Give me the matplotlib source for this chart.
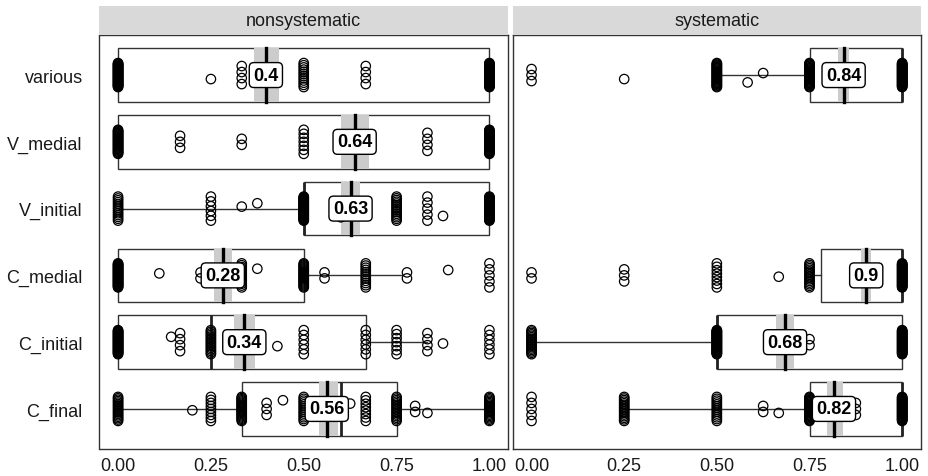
import numpy as np
import matplotlib
matplotlib.use("Agg")
import matplotlib.pyplot as plt

plt.rcParams['font.family'] = ['Liberation Sans', 'DejaVu Sans']

# ---------------- data ----------------
categories = ["various", "V_medial", "V_initial", "C_medial", "C_initial", "C_final"]
panels = ["nonsystematic", "systematic"]
x_ticks = [0.0, 0.25, 0.5, 0.75, 1.0]
x_tick_labels = ["0.00", "0.25", "0.50", "0.75", "1.00"]

# observed proportions (value, count) per panel / category
ns_various_vals = [0, 0.25, 0.333, 0.5, 0.667, 1]
ns_various_cnt = [40, 1, 4, 12, 4, 40]
ns_vmedial_vals = [0, 0.167, 0.333, 0.5, 0.667, 0.833, 1]
ns_vmedial_cnt = [30, 3, 2, 7, 2, 4, 35]
ns_vinitial_vals = [0, 0.25, 0.333, 0.375, 0.5, 0.6, 0.667, 0.75, 0.833, 0.875, 1]
ns_vinitial_cnt = [14, 6, 1, 1, 35, 1, 1, 15, 5, 1, 35]
ns_cmedial_vals = [0, 0.111, 0.222, 0.25, 0.333, 0.375, 0.5, 0.556, 0.667, 0.778, 0.889, 1]
ns_cmedial_cnt = [35, 1, 2, 1, 14, 1, 25, 2, 12, 2, 1, 5]
ns_cinitial_vals = [0, 0.143, 0.167, 0.25, 0.333, 0.429, 0.5, 0.667, 0.75, 0.833, 0.875, 1]
ns_cinitial_cnt = [35, 1, 4, 16, 3, 1, 6, 6, 7, 4, 1, 6]
ns_cfinal_vals = [0, 0.2, 0.25, 0.333, 0.4, 0.444, 0.5, 0.6, 0.625, 0.667, 0.75, 0.8, 0.833, 1]
ns_cfinal_cnt = [18, 1, 9, 22, 3, 1, 14, 2, 1, 8, 16, 2, 1, 20]

sy_various_vals = [0, 0.25, 0.5, 0.583, 0.625, 0.75, 0.875, 1]
sy_various_cnt = [3, 1, 30, 1, 1, 30, 2, 45]
sy_vmedial_vals = []
sy_vmedial_cnt = []
sy_vinitial_vals = []
sy_vinitial_cnt = []
sy_cmedial_vals = [0, 0.25, 0.5, 0.667, 0.75, 1]
sy_cmedial_cnt = [2, 3, 8, 1, 16, 40]
sy_cinitial_vals = [0, 0.5, 0.667, 0.75, 1]
sy_cinitial_cnt = [18, 40, 1, 2, 40]
sy_cfinal_vals = [0, 0.25, 0.5, 0.625, 0.667, 0.75, 0.875, 1]
sy_cfinal_cnt = [5, 16, 14, 2, 1, 30, 3, 40]

# box statistics (category order as above; nan = no data)
nan = float("nan")
ns_q1 = [0, 0, 0.5, 0, 0, 0.333]
ns_med = [0.398, 0.637, 0.5, 0.282, 0.25, 0.6]
ns_q3 = [1, 1, 1, 0.5, 0.667, 0.75]
ns_wlo = [0, 0, 0, 0, 0, 0]
ns_whi = [1, 1, 1, 0.765, 0.833, 1]
ns_mean = [0.398, 0.637, 0.626, 0.282, 0.340, 0.562]
ns_ci_lo = [0.365, 0.599, 0.600, 0.257, 0.311, 0.540]
ns_ci_hi = [0.434, 0.675, 0.652, 0.308, 0.369, 0.591]

sy_q1 = [0.75, nan, nan, 0.782, 0.5, 0.75]
sy_med = [1.0, nan, nan, 1.0, 0.5, 1.0]
sy_q3 = [1, nan, nan, 1, 1, 1]
sy_wlo = [0.5, nan, nan, 0.75, 0, 0.25]
sy_whi = [1, nan, nan, 1, 1, 1]
sy_mean = [0.842, nan, nan, 0.903, 0.684, 0.816]
sy_ci_lo = [0.826, nan, nan, 0.888, 0.659, 0.797]
sy_ci_hi = [0.857, nan, nan, 0.917, 0.708, 0.840]

# ---------------- assemble ----------------
points = {
    "nonsystematic": [(ns_various_vals, ns_various_cnt), (ns_vmedial_vals, ns_vmedial_cnt),
                      (ns_vinitial_vals, ns_vinitial_cnt), (ns_cmedial_vals, ns_cmedial_cnt),
                      (ns_cinitial_vals, ns_cinitial_cnt), (ns_cfinal_vals, ns_cfinal_cnt)],
    "systematic": [(sy_various_vals, sy_various_cnt), (sy_vmedial_vals, sy_vmedial_cnt),
                   (sy_vinitial_vals, sy_vinitial_cnt), (sy_cmedial_vals, sy_cmedial_cnt),
                   (sy_cinitial_vals, sy_cinitial_cnt), (sy_cfinal_vals, sy_cfinal_cnt)],
}
boxes = {
    "nonsystematic": (ns_q1, ns_med, ns_q3, ns_wlo, ns_whi, ns_mean, ns_ci_lo, ns_ci_hi),
    "systematic": (sy_q1, sy_med, sy_q3, sy_wlo, sy_whi, sy_mean, sy_ci_lo, sy_ci_hi),
}

W, H = 929, 477
fig = plt.figure(figsize=(W / 100, H / 100), dpi=100)
fig.patch.set_facecolor("white")

panel_px = [(99.5, 508.0), (513.0, 920.7)]
top_px, bot_px = 36.0, 450.0
strip_top = 7.0

PATTERN = [0.10, -0.06, 0.13, -0.11, 0.03, 0.08, -0.02, -0.13]
BOXW = 0.8
ncat = len(categories)


def offsets(n, k):
    if n == 1:
        return np.array([PATTERN[k % len(PATTERN)]])
    s = min(0.18, 0.045 * (n - 1))
    return np.linspace(-s, s, n)


for pi, pname in enumerate(panels):
    x0, x1 = panel_px[pi]
    ax = fig.add_axes([x0 / W, 1 - bot_px / H, (x1 - x0) / W, (bot_px - top_px) / H])
    ax.set_xlim(-0.05, 1.05)
    ax.set_ylim(0.4, ncat + 0.6)
    for sp in ax.spines.values():
        sp.set_color("#333333")
        sp.set_linewidth(1.0)
    ax.set_xticks(x_ticks)
    ax.set_xticklabels(x_tick_labels, fontsize=13, color="#1a1a1a")
    ax.set_yticks([ncat - i for i in range(ncat)])
    if pi == 0:
        ax.set_yticklabels(categories, fontsize=13, color="#1a1a1a")
    else:
        ax.set_yticklabels([])
    ax.tick_params(axis="x", length=0, pad=6)
    ax.tick_params(axis="y", length=0, pad=12)

    q1, med, q3, wlo, whi, mean, clo, chi = boxes[pname]
    stats, pos = [], []
    for i in range(ncat):
        if np.isnan(q1[i]):
            continue
        stats.append(dict(q1=q1[i], med=med[i], q3=q3[i], whislo=wlo[i], whishi=whi[i], fliers=[]))
        pos.append(ncat - i)
    ax.bxp(stats, positions=pos, widths=BOXW, orientation="horizontal", showcaps=False,
           showfliers=False, patch_artist=True, manage_ticks=False,
           boxprops=dict(facecolor="white", edgecolor="#333333", linewidth=1.0),
           whiskerprops=dict(color="#333333", linewidth=1.0),
           medianprops=dict(color="#222222", linewidth=2.0), zorder=1)

    # mean CI band + mean line
    for i in range(ncat):
        if np.isnan(mean[i]):
            continue
        y = ncat - i
        ax.barh(y, chi[i] - clo[i], left=clo[i], height=BOXW, color="#cccccc", zorder=2)
        ax.plot([mean[i], mean[i]], [y - BOXW / 2, y + BOXW / 2], color="black", lw=2.4, zorder=3)

    # points
    for i, (vals, cnts) in enumerate(points[pname]):
        y = ncat - i
        xs, ys = [], []
        k = i
        for v, c in zip(vals, cnts):
            off = offsets(c, k)
            k += 1
            xs.extend([v] * c)
            ys.extend(list(y + off))
        if xs:
            ax.scatter(xs, ys, s=46, facecolors="none", edgecolors="black", linewidths=0.9, zorder=4)

    # mean labels
    for i in range(ncat):
        if np.isnan(mean[i]):
            continue
        y = ncat - i
        lab = f"{round(mean[i], 2):g}"
        ax.text(mean[i], y, lab, ha="center", va="center", fontsize=13, fontweight="bold",
                color="black", zorder=6,
                bbox=dict(boxstyle="round,pad=0.22,rounding_size=0.25", fc="white", ec="black", lw=1.0))

    # strip
    sax = fig.add_axes([x0 / W, 1 - (top_px - 0.5) / H, (x1 - x0) / W, (top_px - 0.5 - strip_top) / H])
    sax.set_facecolor("#d9d9d9")
    for sp in sax.spines.values():
        sp.set_visible(False)
    sax.set_xticks([])
    sax.set_yticks([])
    sax.text(0.5, 0.5, pname, ha="center", va="center", fontsize=13, color="#1a1a1a",
             transform=sax.transAxes)

fig.savefig("out.png", dpi=100)
